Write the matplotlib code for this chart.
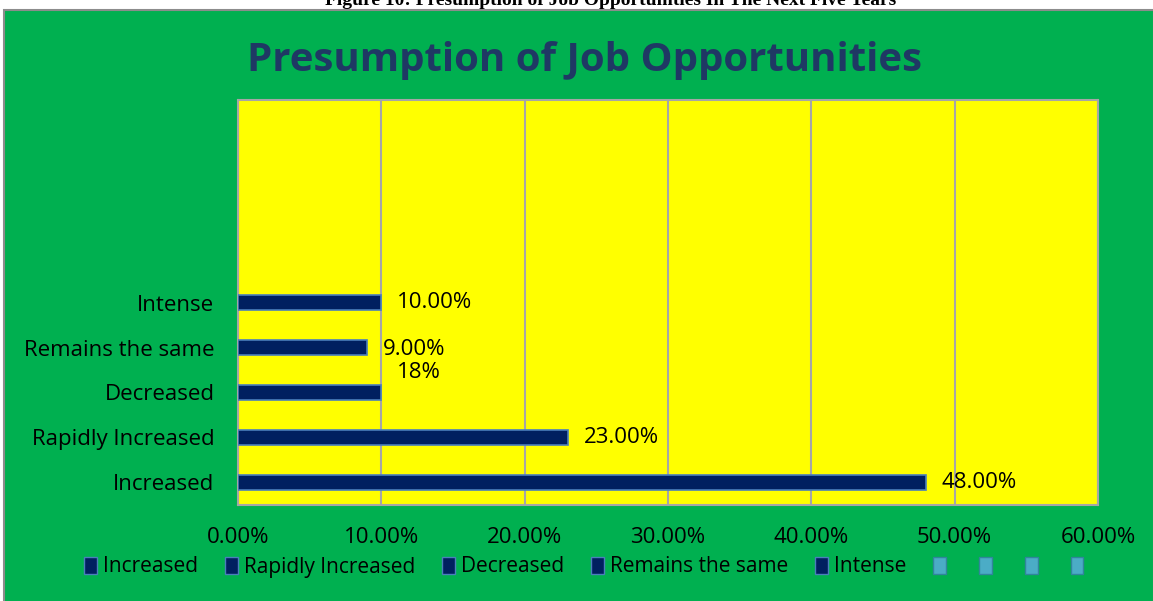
import matplotlib
matplotlib.use("Agg")
import matplotlib.pyplot as plt
from matplotlib.patches import Rectangle, Patch

categories = ["Increased", "Rapidly Increased", "Decreased", "Remains the same", "Intense"]
values = [48.0, 23.0, 10.0, 9.0, 10.0]
value_labels = ["48.00%", "23.00%", "18%", "9.00%", "10.00%"]
xticks = [0, 10, 20, 30, 40, 50, 60]
xtick_labels = ["0.00%", "10.00%", "20.00%", "30.00%", "40.00%", "50.00%", "60.00%"]
title = "Presumption of Job Opportunities"
caption = "Figure 10: Presumption of Job Opportunities In The Next Five Years"

W, H = 1153, 601
fig = plt.figure(figsize=(W / 100, H / 100), dpi=100)
fig.patch.set_facecolor("white")

# green panel (behind everything)
bg = fig.add_axes([0, 0, 1, 1], zorder=-10)
bg.set_xlim(0, W)
bg.set_ylim(H, 0)
bg.axis("off")
bg.add_patch(Rectangle((4, 10), W - 3, H, facecolor="#00B050", edgecolor="#8C8C8C", linewidth=1.5))

fig.text(0.53, 1 - 5 / H, caption, ha="center", va="baseline", fontsize=14,
         fontweight="bold", family="Liberation Serif", color="black")

fig.text(584 / W, 1 - 60 / H, title, ha="center", va="center", fontsize=29,
         fontweight="bold", family="Open Sans", color="#1F3864")

ax = fig.add_axes([238 / W, 1 - 505 / H, (1098 - 238) / W, (505 - 100) / H])
ax.set_facecolor("#FFFF00")
ypos = list(range(len(categories)))
ax.barh(ypos, values, height=0.34, color="#002060", edgecolor="#4A7EBB", linewidth=1.2, zorder=3)
ax.set_xlim(0, 60)
ax.set_ylim(-0.5, 8.5)
ax.set_xticks(xticks)
ax.set_xticklabels(xtick_labels)
ax.set_yticks(ypos)
ax.set_yticklabels(categories)
ax.tick_params(length=0, labelsize=16, colors="black")
ax.tick_params(axis="x", pad=16)
ax.tick_params(axis="y", pad=17)
for lab in ax.get_xticklabels() + ax.get_yticklabels():
    lab.set_family("Open Sans")
ax.grid(axis="x", color="#A6A6A6", linewidth=1.5, zorder=1)
for s in ax.spines.values():
    s.set_color("#A6A6A6")
    s.set_linewidth(1.5)

offsets = [(1.1, 0.0), (1.1, 0.0), (1.1, 0.45), (1.1, -0.05), (1.1, 0.0)]
for y, v, lab, (dx, dy) in zip(ypos, values, value_labels, offsets):
    ax.text(v + dx, y + dy, lab, va="center", ha="left", fontsize=16,
            family="Open Sans", color="black", zorder=4)

handles = [Patch(facecolor="#002060", edgecolor="#4A7EBB", label=c) for c in categories]
handles += [Patch(facecolor="#4BACC6", edgecolor="#31859C", label="") for _ in range(4)]
leg = fig.legend(handles=handles, loc="center", bbox_to_anchor=(587 / W, 1 - 567 / H), ncol=9,
                 frameon=False, handlelength=0.6, handleheight=0.9,
                 handletextpad=0.3, columnspacing=1.3, prop={"family": "Open Sans", "size": 15})

fig.savefig("out.png", dpi=100)
